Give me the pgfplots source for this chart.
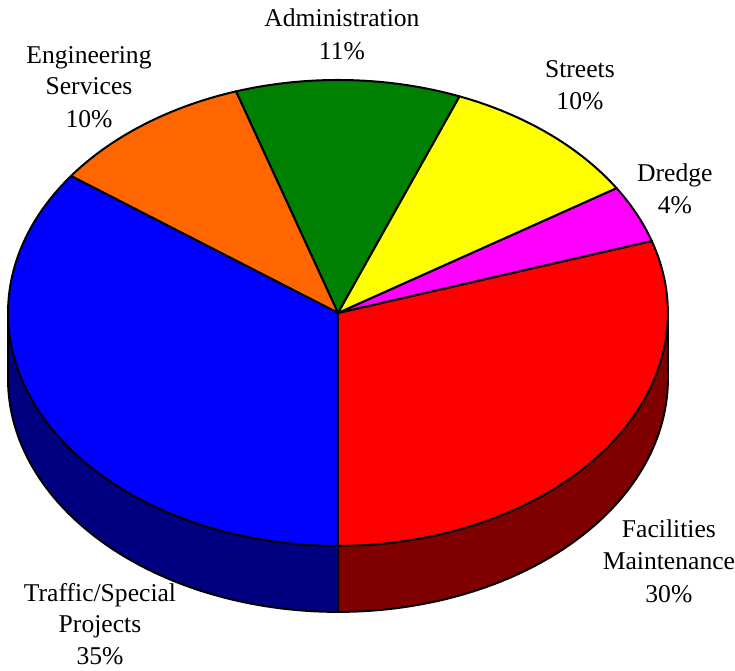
\documentclass[border=0pt]{standalone}
\usepackage{fontspec}
\setmainfont{Liberation Serif}
\newfontfamily\lserif{Liberation Serif}
\usepackage{pgfplots}
\pgfplotsset{compat=1.18}
\usepgfplotslibrary{fillbetween}
\definecolor{pred}{RGB}{255,0,0}
\definecolor{pmagenta}{RGB}{255,0,255}
\definecolor{pyellow}{RGB}{255,255,0}
\definecolor{pgreen}{RGB}{0,128,0}
\definecolor{porange}{RGB}{255,102,0}
\definecolor{pblue}{RGB}{0,0,255}
\definecolor{pnavy}{RGB}{0,0,128}
\definecolor{pmaroon}{RGB}{128,0,0}
% cumulative percentages: Facilities 30, Dredge 4, Streets 10, Administration 11, Engineering 10, Traffic 35
\newcommand{\topslice}[3]{%
  \addplot[fill=#3, draw=black, line width=2bp, line join=round, domain={-90+3.6*#1}:{-90+3.6*#2}, samples=80, variable=\t]
    ({338+330*cos(t)},{358+233*sin(t)}) -- (axis cs:338,358) -- cycle;}
\begin{document}
\begin{tikzpicture}
\begin{axis}[scale only axis, width=735bp, height=671bp,
  xmin=0, xmax=735, ymin=0, ymax=671, hide axis, clip=false]
\addplot[draw=none] coordinates {(0,0) (735,671)};
% side faces
\addplot[draw=none, name path=T1, domain=180:270, samples=80, variable=\t] ({338+330*cos(t)},{358+233*sin(t)});
\addplot[draw=none, name path=B1, domain=180:270, samples=80, variable=\t] ({338+330*cos(t)},{292+233*sin(t)});
\addplot[fill=pnavy, draw=none] fill between[of=T1 and B1];
\addplot[draw=none, name path=T2, domain=270:360, samples=80, variable=\t] ({338+330*cos(t)},{358+233*sin(t)});
\addplot[draw=none, name path=B2, domain=270:360, samples=80, variable=\t] ({338+330*cos(t)},{292+233*sin(t)});
\addplot[fill=pmaroon, draw=none] fill between[of=T2 and B2];
\addplot[draw=black, line width=2bp, domain=180:360, samples=120, variable=\t] ({338+330*cos(t)},{292+233*sin(t)});
\addplot[draw=black, line width=2bp] coordinates {(8,358) (8,292)};
\addplot[draw=black, line width=2bp] coordinates {(668,358) (668,292)};
\addplot[draw=black, line width=2bp] coordinates {(338,125) (338,59)};
% top faces
\topslice{0}{30}{pred}
\topslice{30}{34}{pmagenta}
\topslice{34}{44}{pyellow}
\topslice{44}{55}{pgreen}
\topslice{55}{65}{porange}
\topslice{65}{100}{pblue}
% labels
\begin{scope}[every node/.style={font=\lserif\fontsize{25.7}{32}\selectfont, anchor=base, inner sep=0pt}]
\node at (axis cs:342,644) {Administration};
\node at (axis cs:342,611) {11\%};
\node at (axis cs:89,607) {Engineering};
\node at (axis cs:89,576) {Services};
\node at (axis cs:89,543) {10\%};
\node at (axis cs:580,593) {Streets};
\node at (axis cs:580,561) {10\%};
\node at (axis cs:675,489) {Dredge};
\node at (axis cs:675,457) {4\%};
\node at (axis cs:669,133) {Facilities};
\node at (axis cs:669,101) {Maintenance};
\node at (axis cs:669,68) {30\%};
\node at (axis cs:100,69) {Traffic/Special};
\node at (axis cs:100,38) {Projects};
\node at (axis cs:100,6) {35\%};
\end{scope}
\end{axis}
\end{tikzpicture}
\end{document}
